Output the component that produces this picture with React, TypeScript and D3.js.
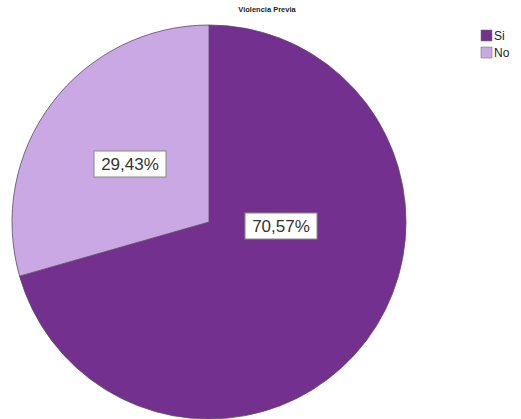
import React from "react";
import * as d3 from "d3";

const categories = ["Si", "No"];
const values = [70.57, 29.43];
const labels = ["70,57%", "29,43%"];
const colors = ["#74308e", "#caa8e3"];
const title = "Violencia Previa";

export default function App() {
  const W = 521, H = 419;
  const cx = 209, cy = 222, r = 197;
  const pie = d3.pie<number>().sort(null).value((d) => d)(values);
  const arc = d3.arc<d3.PieArcDatum<number>>().innerRadius(0).outerRadius(r);
  const labelPos = [
    [281, 226],
    [130, 164],
  ];
  return (
    <svg width={W} height={H} style={{ position: "absolute", left: 0, top: 0 }}>
      <rect width={W} height={H} fill="#fff" />
      <text x={267} y={12} textAnchor="middle" fontFamily="Liberation Sans, Arial" fontWeight="bold" fontSize={7.5} fill="#222">
        {title}
      </text>
      <g transform={`translate(${cx},${cy})`}>
        {pie.map((p, i) => (
          <path key={i} d={arc(p) || ""} fill={colors[i]} stroke="#5a4a66" strokeWidth={0.8} />
        ))}
      </g>
      {labels.map((l, i) => {
        const [x, y] = labelPos[i];
        const w = 72, h = 26;
        return (
          <g key={i}>
            <rect x={x - w / 2} y={y - h / 2} width={w} height={h} fill="#fff" stroke="#888" strokeWidth={1} />
            <text x={x} y={y + 6} textAnchor="middle" fontFamily="Liberation Sans, Arial" fontSize={17} fill="#333">
              {l}
            </text>
          </g>
        );
      })}
      {categories.map((c, i) => (
        <g key={c} transform={`translate(481,${30 + i * 17})`}>
          <rect x={0} y={0} width={11} height={11} fill={colors[i]} stroke="#777" strokeWidth={0.6} />
          <text x={13} y={10} fontFamily="Liberation Sans, Arial" fontSize={12} fill="#222">
            {c}
          </text>
        </g>
      ))}
    </svg>
  );
}
